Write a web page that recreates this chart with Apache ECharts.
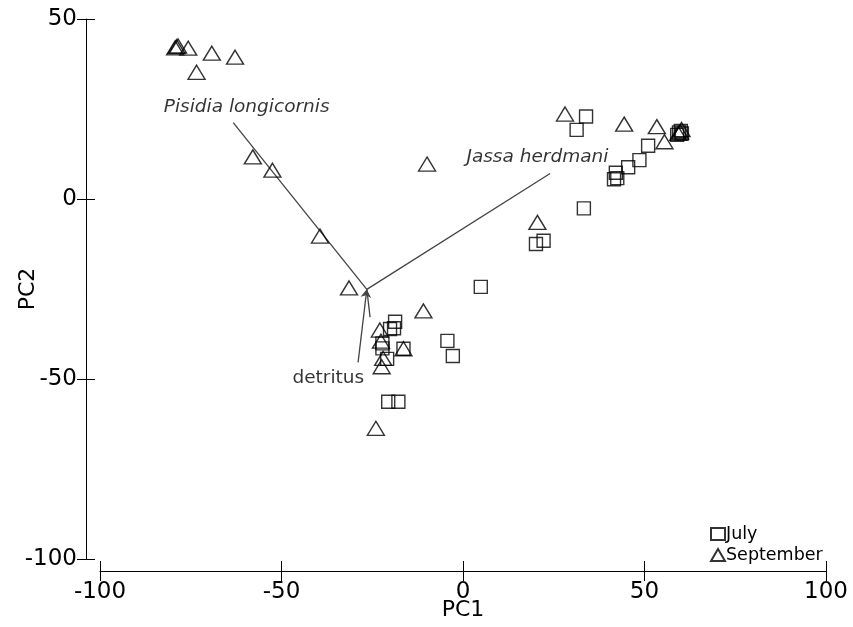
<!DOCTYPE html>
<html>
<head>
<meta charset="utf-8">
<script src="https://cdn.jsdelivr.net/npm/echarts@6/dist/echarts.min.js"></script>
<style>html,body{margin:0;padding:0;background:#fff}#c{width:853px;height:627px}</style>
</head>
<body>
<div id="c"></div>
<script>
// July (squares) PC1, PC2
var julyPoints = [
  [33.9,22.9],[31.3,19.2],[51.0,14.8],[48.6,10.8],[45.5,8.8],[42.1,7.3],[41.6,5.5],[42.5,5.8],
  [33.3,-2.6],[22.2,-11.6],[20.1,-12.5],
  [59.5,18.5],[60.0,18.9],[59.0,17.8],[60.3,18.2],
  [4.9,-24.4],[-18.7,-34.1],[-19.0,-35.9],[-20.1,-36.1],[-22.2,-40.1],[-22.2,-41.5],
  [-16.4,-41.6],[-20.9,-44.4],[-4.3,-39.4],[-2.8,-43.6],[-20.6,-56.3],[-17.8,-56.3]
];
// September (triangles) PC1, PC2
var septemberPoints = [
  [-78.9,42.3],[-79.3,42.0],[-78.5,42.5],[-75.7,41.9],[-69.2,40.5],[-62.8,39.4],[-73.4,35.2],
  [-57.9,11.7],[-52.5,8.0],[-39.4,-10.3],[-31.4,-24.7],[-9.9,9.7],[-10.9,-31.1],
  [20.5,-6.5],[28.1,23.6],[44.4,20.8],[53.4,20.1],[55.5,15.9],
  [59.8,18.6],[59.3,18.2],[60.2,19.3],
  [-22.9,-36.4],[-22.6,-39.5],[-16.4,-41.6],[-22.0,-44.3],[-22.4,-46.6],[-24.0,-63.7]
];
// Biplot vectors
var vectorOrigin = [-26.5,-25.1];
var vectorNames = ['Pisidia longicornis','Jassa herdmani','detritus'];
var vectorEnds = [[-63.3,21.2],[24.0,7.1],[-25.6,-32.8]];
var detritusLeader = [-28.9,-45.4];
var vectorLabelPos = [[-59.6,25.6],[20.5,11.7],[-37.1,-49.7]];
var vectorLabelItalic = [true,true,false];
// Axis ticks
var xMin=-100, xMax=100, xStep=50;
var yMin=-100, yMax=50, yStep=50;

var chart = echarts.init(document.getElementById('c'));
var font = 'DejaVu Sans';
var lineCol = '#444';

var lineSeries = vectorEnds.map(function(e){
  return {type:'line', xAxisIndex:0, yAxisIndex:0, data:[vectorOrigin, e], symbol:'none',
    lineStyle:{color:lineCol, width:1.3}, silent:true, z:1};
});
lineSeries.push({type:'lines', coordinateSystem:'cartesian2d', xAxisIndex:0, yAxisIndex:0,
  data:[{coords:[detritusLeader, vectorOrigin]}], symbol:['none','arrow'], symbolSize:8,
  lineStyle:{color:lineCol, width:1.3, opacity:1}, silent:true, z:1});

var labelData = vectorNames.map(function(n,i){
  return {name:n, value:vectorLabelPos[i], label:{fontStyle: vectorLabelItalic[i]?'italic':'normal'}};
});

var option = {
  animation:false,
  backgroundColor:'#fff',
  grid:{left:100, right:27, top:19, bottom:68, containLabel:false, outerBoundsMode:'none'},
  xAxis:[{
    type:'value', min:xMin, max:xMax, interval:xStep, offset:12,
    axisLine:{show:true, onZero:false, lineStyle:{color:'#000', width:1}},
    axisTick:{show:true, inside:false, length:10, lineStyle:{color:'#000'}},
    axisLabel:{color:'#000', fontFamily:font, fontSize:23, margin:10},
    splitLine:{show:false},
    name:'PC1', nameLocation:'middle', nameGap:28, nameMoveOverlap:false,
    nameTextStyle:{color:'#000', fontFamily:font, fontSize:22}
  },{
    type:'value', min:xMin, max:xMax, interval:xStep, offset:12, position:'bottom',
    axisLine:{show:false, onZero:false}, axisTick:{show:true, inside:true, length:10, lineStyle:{color:'#000'}},
    axisLabel:{show:false}, splitLine:{show:false}
  }],
  yAxis:[{
    type:'value', min:yMin, max:yMax, interval:yStep, offset:14,
    axisLine:{show:true, onZero:false, lineStyle:{color:'#000', width:1}},
    axisTick:{show:true, inside:false, length:9, lineStyle:{color:'#000'}},
    axisLabel:{color:'#000', fontFamily:font, fontSize:23, margin:9},
    splitLine:{show:false},
    name:'PC2', nameLocation:'middle', nameGap:47, nameRotate:90, nameMoveOverlap:false,
    nameTextStyle:{color:'#000', fontFamily:font, fontSize:22}
  },{
    type:'value', min:yMin, max:yMax, interval:yStep, offset:14, position:'left',
    axisLine:{show:false, onZero:false}, axisTick:{show:true, inside:true, length:9, lineStyle:{color:'#000'}},
    axisLabel:{show:false}, splitLine:{show:false}
  }],
  legend:{
    data:['July','September'], orient:'vertical', left:705, top:520,
    itemWidth:14, itemHeight:12, itemGap:3,
    textStyle:{color:'#000', fontFamily:font, fontSize:17.5, padding:[0,0,0,-4]}
  },
  series: lineSeries.concat([
    {name:'July', type:'scatter', data:julyPoints, symbol:'rect', symbolSize:[13,13],
      itemStyle:{color:'rgba(255,255,255,0)', borderColor:'#000', borderWidth:1.4}, z:3},
    {name:'September', type:'scatter', data:septemberPoints, symbol:'triangle', symbolSize:[17,14],
      itemStyle:{color:'rgba(255,255,255,0)', borderColor:'#000', borderWidth:1.4}, z:3},
    {name:'vectorLabels', type:'scatter', data:labelData, symbolSize:0, silent:true,
      label:{show:true, position:'inside', formatter:'{b}', color:'#000', textBorderWidth:0, fontFamily:font, fontSize:18.5}, z:4}
  ])
};
chart.setOption(option);
</script>
</body>
</html>
